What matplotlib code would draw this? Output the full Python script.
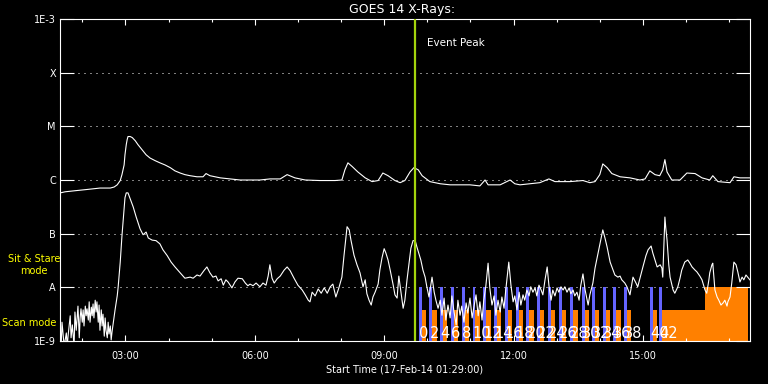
import numpy as np
import matplotlib
matplotlib.use("Agg")
import matplotlib.pyplot as plt
from matplotlib.ticker import FixedLocator, MultipleLocator, NullLocator, FuncFormatter

plt.rcParams['font.family'] = ['DejaVu Sans']

# GOES 14 1-8 A channel: time (hours UT, 17-Feb-14), log10 flux (W/m^2)
long_t = [1.49, 1.60, 1.83, 2.07, 2.30, 2.41, 2.65, 2.74, 2.81, 2.88,
          2.92, 2.97, 2.99, 3.02, 3.04, 3.06, 3.11, 3.16, 3.23, 3.29,
          3.39, 3.48, 3.57, 3.69, 3.80, 3.92, 4.04, 4.15, 4.27, 4.38,
          4.50, 4.66, 4.80, 4.87, 4.96, 5.20, 5.43, 5.66, 5.89, 6.12,
          6.35, 6.59, 6.75, 6.93, 7.17, 7.51, 7.86, 8.02, 8.09, 8.16,
          8.26, 8.39, 8.56, 8.72, 8.86, 8.97, 9.09, 9.25, 9.37, 9.48,
          9.60, 9.69, 9.79, 9.88, 10.06, 10.30, 10.53, 10.76, 10.99, 11.22,
          11.34, 11.41, 11.69, 11.92, 12.03, 12.15, 12.38, 12.61, 12.82, 12.96,
          13.31, 13.61, 13.77, 13.89, 14.00, 14.07, 14.17, 14.28, 14.47, 14.70,
          14.93, 15.05, 15.16, 15.28, 15.39, 15.46, 15.51, 15.56, 15.67, 15.86,
          16.02, 16.21, 16.37, 16.55, 16.62, 16.74, 17.02, 17.11, 17.25, 17.48]
long_log = [-6.24, -6.22, -6.20, -6.18, -6.16, -6.15, -6.15, -6.13, -6.09, -6.01,
            -5.90, -5.72, -5.53, -5.34, -5.25, -5.19, -5.19, -5.21, -5.27, -5.34,
            -5.44, -5.53, -5.59, -5.64, -5.68, -5.72, -5.77, -5.83, -5.87, -5.90,
            -5.92, -5.94, -5.94, -5.88, -5.92, -5.96, -5.98, -6.00, -6.00, -6.00,
            -5.98, -5.98, -5.90, -5.96, -6.00, -6.01, -6.01, -6.00, -5.81, -5.68,
            -5.75, -5.85, -5.96, -6.03, -6.01, -5.87, -5.92, -6.01, -6.05, -6.01,
            -5.85, -5.77, -5.81, -5.92, -6.03, -6.07, -6.09, -6.09, -6.09, -6.11,
            -6.00, -6.09, -6.09, -6.00, -6.07, -6.09, -6.07, -6.05, -5.98, -6.03,
            -6.03, -6.01, -6.05, -6.03, -5.90, -5.70, -5.77, -5.88, -5.94, -5.96,
            -6.00, -5.98, -5.83, -5.90, -5.92, -5.81, -5.62, -5.85, -6.00, -6.00,
            -5.87, -5.88, -5.96, -6.00, -5.92, -6.03, -6.05, -5.94, -5.96, -5.96]

# GOES 14 0.5-4 A channel
short_t = [1.49, 1.51, 1.53, 1.58, 1.63, 1.65, 1.67, 1.72, 1.74, 1.77,
           1.81, 1.83, 1.86, 1.88, 1.90, 1.93, 1.95, 1.97, 2.00, 2.02,
           2.04, 2.07, 2.09, 2.11, 2.14, 2.16, 2.18, 2.21, 2.23, 2.25,
           2.27, 2.30, 2.32, 2.34, 2.37, 2.39, 2.41, 2.44, 2.46, 2.48,
           2.51, 2.53, 2.55, 2.58, 2.60, 2.62, 2.65, 2.67, 2.69, 2.72,
           2.76, 2.81, 2.83, 2.88, 2.92, 2.97, 2.99, 3.02, 3.06, 3.11,
           3.18, 3.25, 3.34, 3.41, 3.48, 3.53, 3.62, 3.71, 3.80, 3.87,
           3.97, 4.06, 4.15, 4.27, 4.38, 4.50, 4.57, 4.66, 4.73, 4.82,
           4.89, 4.96, 5.03, 5.10, 5.15, 5.22, 5.27, 5.33, 5.38, 5.47,
           5.54, 5.61, 5.71, 5.78, 5.84, 5.89, 5.96, 6.03, 6.12, 6.19,
           6.26, 6.31, 6.35, 6.40, 6.45, 6.52, 6.59, 6.68, 6.75, 6.82,
           6.91, 7.00, 7.10, 7.17, 7.24, 7.28, 7.33, 7.40, 7.47, 7.54,
           7.61, 7.68, 7.75, 7.81, 7.88, 7.95, 8.02, 8.07, 8.12, 8.14,
           8.19, 8.23, 8.30, 8.37, 8.44, 8.51, 8.56, 8.60, 8.65, 8.70,
           8.74, 8.79, 8.86, 8.90, 8.95, 9.00, 9.04, 9.09, 9.14, 9.21,
           9.25, 9.30, 9.34, 9.39, 9.44, 9.48, 9.53, 9.58, 9.62, 9.67,
           9.72, 9.76, 9.81, 9.85, 9.90, 9.95, 9.99, 10.04, 10.09, 10.11,
           10.16, 10.20, 10.25, 10.30, 10.34, 10.39, 10.43, 10.48, 10.53, 10.57,
           10.62, 10.67, 10.71, 10.76, 10.80, 10.85, 10.90, 10.94, 10.99, 11.04,
           11.08, 11.13, 11.18, 11.22, 11.27, 11.31, 11.36, 11.41, 11.45, 11.50,
           11.55, 11.59, 11.64, 11.69, 11.73, 11.78, 11.82, 11.87, 11.89, 11.94,
           11.99, 12.03, 12.08, 12.13, 12.17, 12.22, 12.26, 12.31, 12.36, 12.40,
           12.45, 12.50, 12.54, 12.59, 12.64, 12.68, 12.73, 12.78, 12.82, 12.87,
           12.91, 12.96, 13.01, 13.05, 13.10, 13.15, 13.19, 13.24, 13.29, 13.33,
           13.38, 13.42, 13.47, 13.52, 13.56, 13.61, 13.66, 13.73, 13.77, 13.84,
           13.89, 13.96, 14.03, 14.07, 14.12, 14.17, 14.24, 14.31, 14.35, 14.42,
           14.47, 14.51, 14.58, 14.63, 14.70, 14.77, 14.84, 14.88, 14.95, 15.00,
           15.07, 15.12, 15.19, 15.23, 15.28, 15.33, 15.40, 15.44, 15.46, 15.49,
           15.51, 15.53, 15.56, 15.60, 15.63, 15.70, 15.74, 15.81, 15.86, 15.90,
           15.97, 16.04, 16.09, 16.14, 16.21, 16.25, 16.32, 16.37, 16.44, 16.48,
           16.53, 16.55, 16.60, 16.62, 16.65, 16.67, 16.72, 16.76, 16.81, 16.86,
           16.90, 16.95, 16.97, 17.02, 17.06, 17.11, 17.16, 17.20, 17.25, 17.30,
           17.34, 17.39, 17.43, 17.48]
short_log = [-8.80, -9.10, -8.65, -9.10, -8.85, -9.10, -8.91, -8.53, -8.94, -8.70,
             -9.10, -8.46, -8.80, -8.57, -8.35, -8.94, -8.57, -8.40, -8.65, -8.42,
             -8.72, -8.35, -8.53, -8.40, -8.61, -8.27, -8.65, -8.37, -8.53, -8.31,
             -8.57, -8.24, -8.46, -8.27, -8.65, -8.33, -8.80, -8.42, -8.72, -8.50,
             -8.91, -8.57, -8.80, -8.94, -8.65, -8.87, -8.72, -8.98, -8.83, -8.65,
             -8.42, -8.16, -8.01, -7.53, -7.04, -6.52, -6.33, -6.24, -6.24, -6.35,
             -6.50, -6.69, -6.91, -7.02, -6.97, -7.08, -7.12, -7.13, -7.19, -7.30,
             -7.41, -7.53, -7.62, -7.73, -7.83, -7.81, -7.83, -7.77, -7.79, -7.69,
             -7.62, -7.73, -7.81, -7.79, -7.88, -7.84, -7.96, -7.86, -7.90, -8.01,
             -7.90, -7.83, -7.84, -7.92, -7.97, -7.94, -7.97, -7.92, -7.99, -7.92,
             -7.96, -7.79, -7.58, -7.83, -7.92, -7.84, -7.79, -7.68, -7.62, -7.69,
             -7.83, -7.96, -8.05, -8.14, -8.24, -8.27, -8.09, -8.16, -8.03, -8.11,
             -8.01, -8.11, -7.99, -7.94, -8.18, -8.01, -7.81, -7.40, -7.02, -6.87,
             -6.93, -7.12, -7.40, -7.58, -7.73, -7.99, -7.86, -8.12, -8.24, -8.33,
             -8.18, -8.09, -7.94, -7.68, -7.45, -7.28, -7.36, -7.49, -7.68, -7.96,
             -8.14, -8.20, -7.79, -8.09, -8.39, -8.24, -7.86, -7.53, -7.27, -7.13,
             -7.13, -7.25, -7.38, -7.49, -7.68, -7.81, -7.99, -8.18, -7.92, -7.81,
             -8.09, -8.24, -8.39, -8.24, -8.52, -8.20, -8.61, -8.33, -8.57, -8.16,
             -8.46, -8.70, -8.24, -8.52, -8.35, -8.65, -8.29, -8.48, -8.20, -8.57,
             -8.37, -8.14, -8.53, -8.27, -8.61, -8.24, -7.96, -7.55, -8.01, -8.33,
             -8.16, -8.52, -8.24, -8.46, -8.18, -8.39, -8.05, -7.68, -7.53, -7.96,
             -8.27, -8.16, -8.42, -8.09, -8.33, -8.14, -8.24, -8.05, -8.16, -7.99,
             -8.09, -8.01, -8.16, -7.96, -8.05, -8.14, -7.86, -7.62, -7.96, -8.24,
             -8.05, -8.16, -8.01, -8.09, -7.99, -8.05, -7.99, -8.09, -8.01, -8.12,
             -8.05, -8.16, -8.09, -8.24, -7.96, -7.75, -8.05, -8.33, -8.14, -7.92,
             -7.64, -7.36, -7.08, -6.93, -7.08, -7.25, -7.53, -7.68, -7.77, -7.81,
             -7.79, -7.86, -7.92, -7.99, -8.14, -7.81, -7.92, -7.99, -7.77, -7.62,
             -7.41, -7.30, -7.23, -7.36, -7.49, -7.62, -7.58, -7.64, -7.81, -7.12,
             -6.69, -6.89, -7.12, -7.58, -7.81, -8.05, -8.11, -7.99, -7.83, -7.68,
             -7.53, -7.49, -7.55, -7.62, -7.68, -7.71, -7.79, -7.86, -8.05, -8.11,
             -7.86, -7.73, -7.58, -7.55, -7.86, -8.05, -8.18, -8.24, -8.33, -8.29,
             -8.24, -8.35, -8.27, -8.18, -7.92, -7.53, -7.58, -7.71, -7.90, -7.81,
             -7.86, -7.77, -7.81, -7.86]

start_time = "01:29"
event_peak = "09:43"

# IRIS observing blocks
sit_stare_start = ["09:48", "10:03", "10:18", "10:33", "10:48", "11:03", "11:18", "11:33",
                   "11:48", "12:03", "12:18", "12:33", "12:48", "13:03", "13:19", "13:35",
                   "13:49", "14:04", "14:19", "14:34", "15:10", "15:23"]
sit_stare_minutes = 4
obs_labels = ["0", "2", "4", "6", "8", "10", "12", "14", "16", "18", "20",
              "22", "24", "26", "28", "30", "32", "34", "36", "38", "40", "42"]
scan_start = ["09:51", "10:06", "10:21", "10:36", "10:51", "11:06", "11:21", "11:36",
              "11:51", "12:06", "12:21", "12:36", "12:51", "13:06", "13:22", "13:38",
              "13:52", "14:07", "14:22", "14:37", "15:13", "15:27", "16:26"]
scan_minutes = [7] * 21 + [59, 60]
scan_top = [3.8e-9] * 22 + [1e-8]

flare_classes = ["1E-9", "A", "B", "C", "M", "X", "1E-3"]
class_levels = [1e-9, 1e-8, 1e-7, 1e-6, 1e-5, 1e-4, 1e-3]


def hm(s):
    h, m = s.split(":")
    return int(h) + int(m) / 60.0


W, H = 768, 384
fig = plt.figure(figsize=(W / 100, H / 100), dpi=100, facecolor="black")
ax = fig.add_axes([60 / W, 43 / H, 690 / W, 322 / H])
ax.set_facecolor("black")
ax.set_yscale("log")
ax.set_ylim(1e-9, 1e-3)
t0 = hm(start_time)
ax.set_xlim(t0, t0 + 16)

# observing mode bars
blue = "#6464ff"
orange = "#ff8000"
for s, d, top in zip(scan_start, scan_minutes, scan_top):
    ax.bar(hm(s), top - 1e-9, width=d / 60, bottom=1e-9, align="edge",
           color=orange, linewidth=0, zorder=1)
for s in sit_stare_start:
    ax.bar(hm(s), 1e-8 - 1e-9, width=sit_stare_minutes / 60, bottom=1e-9,
           align="edge", color=blue, linewidth=0, zorder=2)

# grid
for lv in class_levels[1:-1]:
    ax.axhline(lv, color="white", lw=0.72, ls=(0, (1, 5)), zorder=0.5)

ax.plot(long_t, 10 ** np.array(long_log), color="white", lw=0.8, zorder=3)
ax.plot(short_t, 10 ** np.array(short_log), color="white", lw=0.8, zorder=3)

ax.axvline(hm(event_peak), color="#a4d40c", lw=1.6, zorder=4)

for s, lab in zip(sit_stare_start, obs_labels):
    ax.text(hm(s), 0.01, lab, transform=ax.get_xaxis_transform(), color="white",
            fontsize=10.5, ha="left", va="baseline", zorder=5)

# axes styling
for sp in ax.spines.values():
    sp.set_color("white")
    sp.set_linewidth(0.8)
ax.yaxis.set_major_locator(FixedLocator(class_levels))
ax.yaxis.set_minor_locator(NullLocator())
ax.set_yticklabels(flare_classes)
ax.xaxis.set_major_locator(FixedLocator([3, 6, 9, 12, 15]))
ax.xaxis.set_minor_locator(MultipleLocator(1))
ax.xaxis.set_major_formatter(FuncFormatter(lambda v, p: "%02d:00" % int(round(v))))
ax.tick_params(axis="y", which="major", direction="in", length=10, width=0.8,
               left=True, right=True, colors="white", labelsize=7, pad=3)
ax.tick_params(axis="x", which="major", direction="in", length=4.5, width=0.8,
               top=True, bottom=True, colors="white", labelsize=7, pad=7)
ax.tick_params(axis="x", which="minor", direction="in", length=2.2, width=0.8,
               top=True, bottom=True, colors="white")

fig.text(402 / W, 1 - 9 / H, "GOES 14 X-Rays:", color="white", fontsize=9,
         ha="center", va="center")
fig.text(427 / W, 1 - 43 / H, "Event Peak", color="white", fontsize=7.5,
         ha="left", va="center")
fig.text(34 / W, 1 - 265 / H, "Sit & Stare\nmode", color="yellow", fontsize=7,
         ha="center", va="center", multialignment="center")
fig.text(2 / W, 1 - 323 / H, "Scan mode", color="yellow", fontsize=7,
         ha="left", va="center")
fig.text(405 / W, 1 - 369 / H, "Start Time (17-Feb-14 01:29:00)", color="white",
         fontsize=7, ha="center", va="center")

fig.savefig("out.png", dpi=100, facecolor="black")
